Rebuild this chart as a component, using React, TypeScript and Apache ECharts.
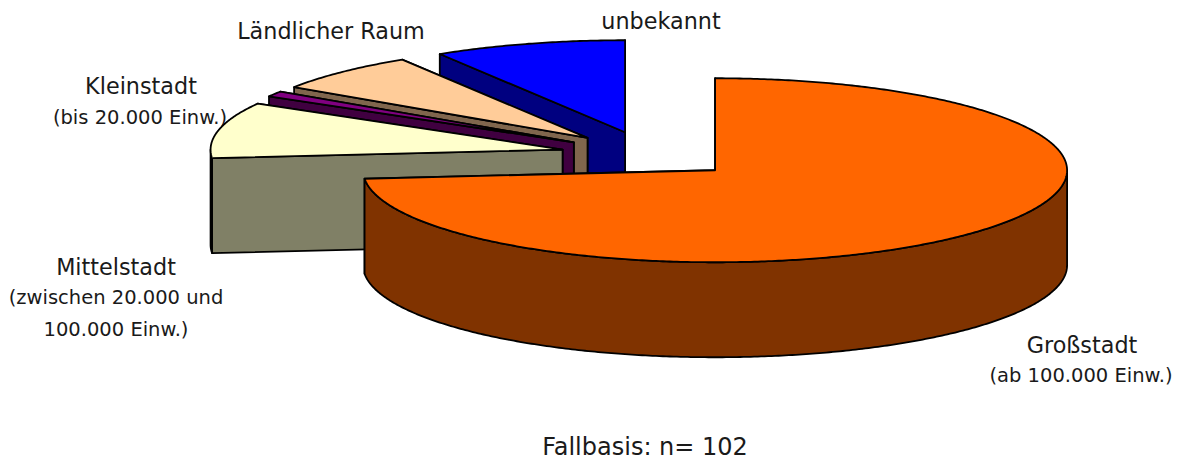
import React, { useEffect, useRef } from "react";
import * as echarts from "echarts";

const categories = ["Großstadt", "Mittelstadt", "Kleinstadt", "Ländlicher Raum", "unbekannt"];
const counts = [75, 10, 1, 7, 9];
const topColors = ["#FF6600", "#FFFFCC", "#800080", "#FFCC99", "#0000FF"];
const wallColors = ["#803300", "#808066", "#400040", "#80664D", "#000080"];
const caseBasis = "Fallbasis: n= 102";

const FONT = "'DejaVu Sans', sans-serif";
const CX = 649.4, CY = 154.6, RX = 352, RY = 92, DEPTH = 95, EXPLODE = 0.2525;
const LINE = 1.8;

const total = counts.reduce((a, b) => a + b, 0);

function renderSlice(_params: any, api: any) {
  const i = api.value(0) as number;
  const before = counts.slice(0, i).reduce((a, b) => a + b, 0);
  const t0 = (before / total) * 2 * Math.PI;
  const t1 = ((before + (api.value(1) as number)) / total) * 2 * Math.PI;
  const mid = (t0 + t1) / 2;
  const cx = CX + EXPLODE * RX * Math.sin(mid);
  const cy = CY - EXPLODE * RY * Math.cos(mid);
  const pt = (t: number, dz = 0): number[] => [cx + RX * Math.sin(t), cy - RY * Math.cos(t) + dz];
  const arc = (a: number, b: number, dz = 0): number[][] => {
    const n = Math.max(2, Math.ceil(Math.abs(b - a) / 0.01));
    const out: number[][] = [];
    for (let k = 0; k <= n; k++) out.push(pt(a + ((b - a) * k) / n, dz));
    return out;
  };
  const wallStyle = { fill: wallColors[i], stroke: "#000", lineWidth: LINE, lineJoin: "round" };
  const children: any[] = [];
  const wall = (t: number) => ({
    type: "polygon",
    shape: { points: [[cx, cy], pt(t), pt(t, DEPTH), [cx, cy + DEPTH]] },
    style: wallStyle,
  });
  children.push(wall(t1), wall(t0));
  const a = Math.max(t0, Math.PI / 2);
  const b = Math.min(t1, (3 * Math.PI) / 2);
  if (b > a) {
    children.push({
      type: "polygon",
      shape: { points: [...arc(a, b), ...arc(b, a, DEPTH)] },
      style: wallStyle,
    });
  }
  children.push({
    type: "polygon",
    shape: { points: [[cx, cy], ...arc(t0, t1)] },
    style: { fill: topColors[i], stroke: "#000", lineWidth: LINE, lineJoin: "round" },
  });
  return { type: "group", children };
}

const label = (text: string, x: number, y: number, size: number) => ({
  type: "text",
  x,
  y,
  style: { text, fontFamily: FONT, fontSize: size, fill: "#1a1a1a", align: "center", verticalAlign: "middle" },
});

export default function App() {
  const ref = useRef<HTMLDivElement>(null);
  useEffect(() => {
    document.body.style.margin = "0";
    const chart = echarts.init(ref.current!, null, { renderer: "svg" });
    const data = counts.map((v, i) => [i, v]).reverse();
    chart.setOption({
      animation: false,
      backgroundColor: "#fff",
      series: [{ type: "custom", coordinateSystem: "none", renderItem: renderSlice, data, silent: true }],
      graphic: [
        label(categories[3], 331, 31, 22.3),
        label(categories[4], 661, 21, 22.3),
        label(categories[2], 141, 86, 22.3),
        label("(bis 20.000 Einw.)", 140, 117, 19.5),
        label(categories[1], 116, 267, 22.3),
        label("(zwischen 20.000 und", 116, 297, 19.5),
        label("100.000 Einw.)", 116, 329, 19.5),
        label(categories[0], 1082, 345, 22.3),
        label("(ab 100.000 Einw.)", 1081, 375, 19.5),
        label(caseBasis, 645, 447, 24),
      ],
    });
    return () => chart.dispose();
  }, []);
  return <div ref={ref} style={{ width: 1183, height: 462 }} />;
}
